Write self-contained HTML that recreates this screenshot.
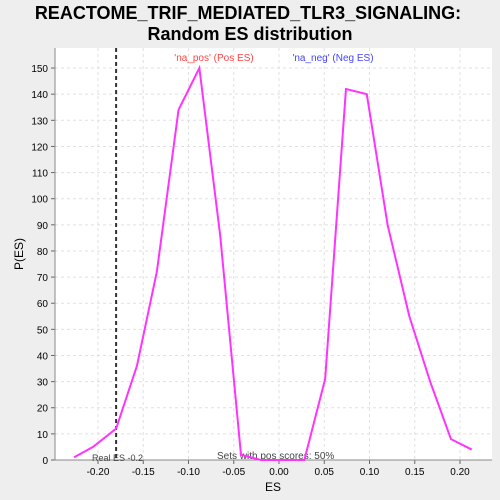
<!DOCTYPE html>
<html><head><meta charset="utf-8"><style>
html,body{margin:0;padding:0;background:#eeeeee;font-family:"Liberation Sans","DejaVu Sans",sans-serif;overflow:hidden}
svg{display:block}
</style></head><body>
<svg width="500" height="500" xmlns="http://www.w3.org/2000/svg" id="svg">
<text x="248" y="19" text-anchor="middle" font-size="18" font-weight="bold">REACTOME_TRIF_MEDIATED_TLR3_SIGNALING:</text>
<text x="250" y="40" text-anchor="middle" font-size="18" font-weight="bold">Random ES distribution</text>
<rect x="55" y="48" width="437" height="412" fill="#fff"/>
<g id="grid"></g><g id="axes"></g>
<text x="273" y="491" text-anchor="middle" font-size="12">ES</text>
<text x="23" y="254" text-anchor="middle" font-size="12" transform="rotate(-90 23 254)">P(ES)</text>
<text x="214" y="61" text-anchor="middle" font-size="10" fill="#ff4444">'na_pos' (Pos ES)</text>
<text x="333" y="61" text-anchor="middle" font-size="10" fill="#4444ff">'na_neg' (Neg ES)</text>
<text x="92" y="461" font-size="9" fill="#444">Real ES -0.2</text>
<text x="217" y="459" font-size="10" fill="#444">Sets with pos scores: 50%</text>
<g id="marks"></g>
</svg>
<script>
const esValues=[-0.2265,-0.2055,-0.18,-0.157,-0.135,-0.111,-0.088,-0.065,-0.042,-0.02,0.004,0.028,0.051,0.074,0.097,0.12,0.144,0.167,0.19,0.213];
const densities=[1,5,12,36,72,134,150,86,2,0,0,0,31,142,140,90,55,30,8,4];
const xTicks=[-0.20,-0.15,-0.10,-0.05,0.00,0.05,0.10,0.15,0.20];
const yTicks=[0,10,20,30,40,50,60,70,80,90,100,110,120,130,140,150];
const realES=-0.18;
const X=v=>279+v*905, Y=v=>460-v*2.613;
const NS="http://www.w3.org/2000/svg";
function mk(t,a,p){const e=document.createElementNS(NS,t);for(const k in a)e.setAttribute(k,a[k]);document.getElementById(p).appendChild(e);return e;}
yTicks.forEach(t=>{
 const g=mk('line',{x1:55,x2:492,y1:Y(t),y2:Y(t),stroke:'#e0e0e0','stroke-dasharray':'3,3'},'grid');
 
 
 mk('line',{x1:51,x2:55,y1:Y(t),y2:Y(t),stroke:'#666'},'axes');
 const l=mk('text',{x:48,y:Y(t)+4,'text-anchor':'end','font-size':10},'axes');l.textContent=t;
 
 
});
xTicks.forEach(t=>{
 const g=mk('line',{x1:X(t),x2:X(t),y1:48,y2:460,stroke:'#e0e0e0','stroke-dasharray':'3,3'},'grid');
 
 
 mk('line',{x1:X(t),x2:X(t),y1:460,y2:464,stroke:'#666'},'axes');
 const l=mk('text',{x:X(t),y:475,'text-anchor':'middle','font-size':10},'axes');l.textContent=t.toFixed(2);
 
 
});
const ax=mk('path',{d:'M55 48V460H492',fill:'none',stroke:'#888'},'axes');


const rl=mk('line',{x1:X(realES),x2:X(realES),y1:48,y2:460,stroke:'#333','stroke-width':2,'stroke-dasharray':'4,3'},'marks');


const ln=mk('polyline',{points:esValues.map((v,i)=>X(v)+','+Y(densities[i])).join(' '),fill:'none',stroke:'#ff33ff','stroke-width':2},'marks');


</script>
</body></html>
